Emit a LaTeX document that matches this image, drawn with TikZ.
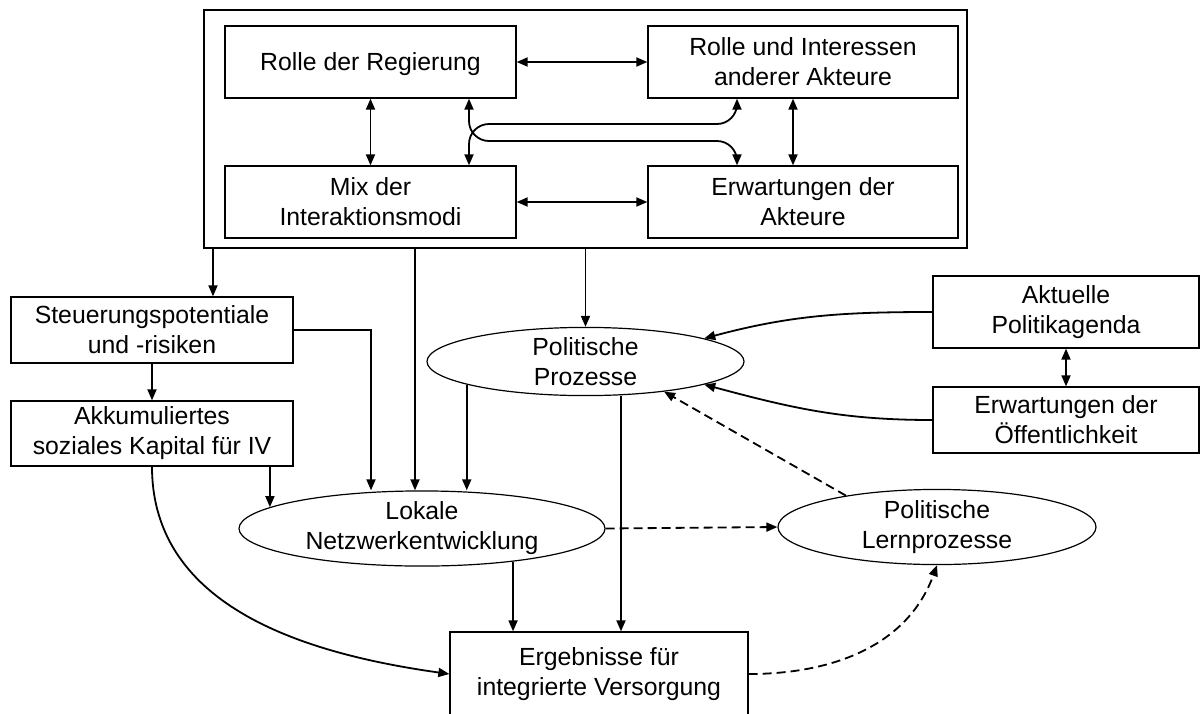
\documentclass[tikz,border=0pt]{standalone}
\usepackage{fontspec}
\setmainfont{Liberation Sans}
\usetikzlibrary{arrows.meta,shapes.geometric}
\begin{document}
\begin{tikzpicture}[x=0.5pt,y=-0.5pt,
  box/.style={draw, line width=0.65pt, inner sep=0pt, align=center, font=\fontsize{12.4}{15}\selectfont},
  ell/.style={draw, ellipse, line width=0.6pt, inner sep=0pt, align=center, font=\fontsize{12.4}{15}\selectfont},
  arr/.style={-{Triangle[length=5.5pt,width=4.5pt]}, line width=0.9pt},
  dbl/.style={{Triangle[length=5.5pt,width=4.5pt]}-{Triangle[length=5.5pt,width=4.5pt]}, line width=0.9pt},
  darr/.style={arr, dash pattern=on 4.5pt off 2.5pt}]
\useasboundingbox (0,0) rectangle (1200,713);
\fill[white] (0,0) rectangle (1200,713);
% column / row helpers
\coordinate (k213) at (213,0);
\coordinate (k371) at (371,0);
\coordinate (k415) at (415,0);
\coordinate (k469) at (469,0);
\coordinate (k621) at (621,0);
\coordinate (k737) at (737,0);
\coordinate (k793) at (793,0);
\coordinate (yA) at (0,141);
\coordinate (yB) at (0,124);
% nodes
\node[box, minimum width=381.5pt, minimum height=119pt] (outer) at (585.5,129) {};
\node[box, minimum width=145.5pt, minimum height=36pt, text depth=0pt] (Reg) at (370.5,62) {Rolle der Regierung};
\node[box, minimum width=145.5pt, minimum height=36pt] (Mix) at (370.5,202) {Mix der\\Interaktionsmodi};
\node[box, minimum width=155pt, minimum height=36pt] (RI) at (803,62) {Rolle und Interessen\\anderer Akteure};
\node[box, minimum width=155pt, minimum height=36pt] (EA) at (803,202) {Erwartungen der\\Akteure};
\node[box, minimum width=141pt, minimum height=33pt] (Steu) at (152,330) {Steuerungspotentiale\\und -risiken};
\node[box, minimum width=141pt, minimum height=32.5pt] (Akk) at (152,433.5) {Akkumuliertes\\soziales Kapital für IV};
\node[box, minimum width=133pt, minimum height=36pt] (Akt) at (1066,312) {Aktuelle\\Politikagenda};
\node[box, minimum width=133pt, minimum height=33pt] (EO) at (1066,420) {Erwartungen der\\Öffentlichkeit};
\node[box, minimum width=149pt, minimum height=42pt] (Erg) at (599,674) {Ergebnisse für\\integrierte Versorgung};
\node[ell, minimum width=158.5pt, minimum height=33.5pt] (PP) at (585.5,361.5) {Politische\\Prozesse};
\node[ell, minimum width=183pt, minimum height=35.5pt] (Lok) at (422,528.5) {Lokale\\Netzwerkentwicklung};
\node[ell, minimum width=159pt, minimum height=34pt] (LP) at (937,527) {Politische\\Lernprozesse};
% top box connectors
\draw[dbl] (Reg) -- (RI);
\draw[dbl] (Mix) -- (EA);
\draw[dbl] (Reg) -- (Mix);
\draw[dbl] (RI.south -| k793) -- (EA.north -| k793);
\draw[dbl, rounded corners=10pt] (Reg.south -| k469) -- (k469 |- yA) -- (k737 |- yA) -- (EA.north -| k737);
\draw[dbl, rounded corners=10pt] (Mix.north -| k469) -- (k469 |- yB) -- (k737 |- yB) -- (RI.south -| k737);
% from outer box
\draw[arr] (outer.south -| k213) -- (Steu.north -| k213);
\draw[arr] (outer.south -| k415) -- (Lok.north -| k415);
\draw[arr] (outer.south -| PP.north) -- (PP.north);
% left column
\draw[arr] (Steu) -- (Akk);
\draw[arr] (Steu.east) -| (Lok.north -| k371);
\draw[arr] (Akk.south -| Lok.172.6) -- (Lok.172.6);
\draw[arr] (Akk.south) to[out=-90, in=172] (Erg.west);
% political processes
\draw[arr] (PP.-169.2) -- (Lok.north -| PP.-169.2);
\draw[arr] (PP.south -| k621) -- (Erg.north -| k621);
\draw[arr] (Lok.-20.3) -- (Erg.north -| Lok.-20.3);
\draw[arr] (Akt.west) to[out=180, in=15] (PP.11.6);
\draw[arr] (EO.west) to[out=180, in=-15] (PP.-11.6);
\draw[dbl] (Akt) -- (EO);
% dashed
\draw[darr] (Lok.east) -- (LP.west);
\draw[darr] (LP.161.9) -- (PP.-21.3);
\draw[darr] (Erg.east) to[out=0, in=-110] (LP.south);
\end{tikzpicture}
\end{document}
